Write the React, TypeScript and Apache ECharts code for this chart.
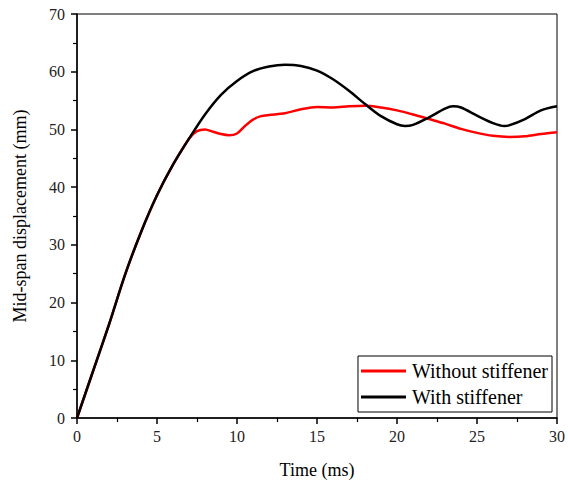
import React, { useEffect, useRef } from "react";
import * as echarts from "echarts";

const timeWithout = [0, 1, 2, 3, 4, 5, 6, 7, 7.5, 8, 8.5, 9, 9.5, 10, 10.5, 11, 11.5, 12, 13, 14, 15, 16, 17, 18, 19, 20, 21, 22, 23, 24, 25, 26, 27, 28, 29, 30];
const dispWithout = [0, 8.1, 16.2, 24.8, 32.2, 38.6, 43.9, 48.4, 49.7, 50.0, 49.6, 49.2, 49.0, 49.3, 50.6, 51.7, 52.3, 52.5, 52.8, 53.5, 53.9, 53.8, 54.0, 54.1, 53.8, 53.3, 52.6, 51.8, 51.0, 50.1, 49.4, 48.9, 48.7, 48.8, 49.2, 49.5];

const timeWith = [0, 1, 2, 3, 4, 5, 6, 7, 8, 9, 10, 11, 12, 13, 14, 15, 16, 17, 18, 19, 20, 20.5, 21, 22, 23, 23.5, 24, 25, 26, 26.7, 27, 28, 29, 30];
const dispWith = [0, 8.1, 16.2, 24.8, 32.2, 38.6, 43.9, 48.4, 52.6, 56.0, 58.4, 60.1, 60.9, 61.2, 61.0, 60.2, 58.7, 56.7, 54.4, 52.3, 50.9, 50.6, 50.8, 52.1, 53.6, 54.0, 53.8, 52.4, 51.1, 50.6, 50.7, 51.8, 53.3, 54.0];

const seriesNames = ["Without stiffener", "With stiffener"];
const seriesColors = ["#ff0000", "#000000"];
const xTitle = "Time (ms)";
const yTitle = "Mid-span displacement (mm)";

const FONT = "Liberation Serif";

export default function App() {
  const ref = useRef<HTMLDivElement>(null);
  useEffect(() => {
    if (!ref.current) return;
    const chart = echarts.init(ref.current, null, { renderer: "svg" });
    const axisCommon = {
      axisLine: { show: true, onZero: false, lineStyle: { color: "#000", width: 1.5 } },
      axisTick: { show: true, inside: false, length: 6, lineStyle: { color: "#000", width: 1.5 } },
      minorTick: { show: true, splitNumber: 2, length: 4, lineStyle: { color: "#000", width: 1.2 } },
      splitLine: { show: false },
      axisLabel: { color: "#222", fontFamily: FONT, fontSize: 16 },
      nameTextStyle: { color: "#000", fontFamily: FONT, fontSize: 18 },
    };
    chart.setOption({
      animation: false,
      backgroundColor: "#fff",
      textStyle: { fontFamily: FONT },
      grid: {
        left: 77,
        right: 7,
        top: 14,
        bottom: 67,
        show: true,
        borderColor: "#000",
        borderWidth: 1,
        backgroundColor: "transparent",
      },
      xAxis: {
        type: "value",
        min: 0,
        max: 30,
        interval: 5,
        name: xTitle,
        nameLocation: "middle",
        nameGap: 43,
        ...axisCommon,
        axisLabel: { ...axisCommon.axisLabel, margin: 10 },
      },
      yAxis: {
        type: "value",
        min: 0,
        max: 70,
        interval: 10,
        name: yTitle,
        nameLocation: "middle",
        nameGap: 48,
        ...axisCommon,
        axisLabel: { ...axisCommon.axisLabel, margin: 12 },
      },
      legend: {
        data: seriesNames.map((n) => ({ name: n, icon: "rect" })),
        orient: "vertical",
        right: 16,
        bottom: 73,
        itemWidth: 45,
        itemHeight: 3,
        itemGap: 6,
        padding: [5, 4, 5, 3],
        borderColor: "#000",
        borderWidth: 1,
        borderRadius: 0,
        backgroundColor: "#fff",
        textStyle: { fontFamily: FONT, fontSize: 20, color: "#000", padding: [0, 0, 0, 1] },
      },
      series: seriesNames.map((name, k) => ({
        name,
        type: "line",
        data: (k === 0 ? timeWithout : timeWith).map((t, i) => [t, (k === 0 ? dispWithout : dispWith)[i]]),
        smooth: 0.3,
        symbol: "none",
        lineStyle: { color: seriesColors[k], width: 2.5 },
        itemStyle: { color: seriesColors[k] },
        z: 2 + k,
      })),
    });
    return () => chart.dispose();
  }, []);
  return <div ref={ref} style={{ width: 568, height: 485, position: "absolute", left: 0, top: 0 }} />;
}
